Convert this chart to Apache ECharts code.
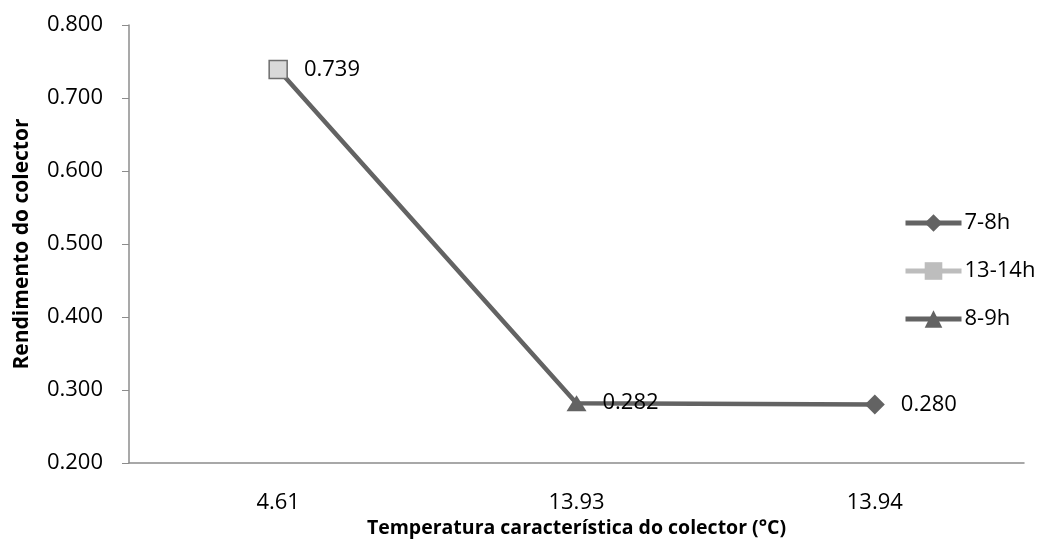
<!DOCTYPE html>
<html lang="pt">
<head>
    <meta charset="UTF-8">
    <title>Rendimento do colector</title>
</head>
<script src="https://cdn.jsdelivr.net/npm/echarts@6/dist/echarts.min.js"></script>

<body style="margin:0">
<div id="main" style="width:1043px;height:552px"></div>
<script>
    // dados
    var categories = ['4.61', '13.93', '13.94'];
    var ligacao = [0.739, 0.282, 0.280];
    var serie78 = [null, null, 0.280];
    var serie1314 = [0.739, null, null];
    var serie89 = [null, 0.282, null];
    var yTicks = [0.2, 0.3, 0.4, 0.5, 0.6, 0.7, 0.8];

    var fonte = 'Open Sans';
    var cinza = '#636363';

    var rotulo = {
        show: true,
        position: 'right',
        distance: 16,
        fontFamily: fonte,
        fontSize: 22,
        color: '#000',
        formatter: function (p) { return p.value.toFixed(3); }
    };

    var myChart = echarts.init(document.getElementById('main'));
    myChart.setOption({
        animation: false,
        textStyle: { fontFamily: fonte },
        grid: { left: 129, right: 19, top: 25, bottom: 89 },
        legend: {
            orient: 'vertical',
            left: 898,
            top: 207,
            itemGap: 26,
            itemWidth: 56,
            itemHeight: 22,
            lineStyle: { width: 5 },
            textStyle: { fontFamily: fonte, fontSize: 22, lineHeight: 22, color: '#000', padding: [0, 0, 0, -2] },
            data: [
                { name: '7-8h' },
                { name: '13-14h', itemStyle: { color: '#bdbdbd', borderWidth: 0 } },
                { name: '8-9h' }
            ]
        },
        xAxis: {
            type: 'category',
            data: categories,
            name: 'Temperatura característica do colector (°C)',
            nameLocation: 'middle',
            nameGap: 51,
            nameTextStyle: { fontFamily: fonte, fontSize: 19.5, fontWeight: 'bold', color: '#000' },
            axisLine: { lineStyle: { color: '#8c8c8c', width: 1.5 } },
            axisTick: { length: 6, lineStyle: { color: '#8c8c8c' } },
            axisLabel: { fontFamily: fonte, fontSize: 22, color: '#000', margin: 29 }
        },
        yAxis: {
            type: 'value',
            min: yTicks[0],
            max: yTicks[yTicks.length - 1],
            interval: 0.1,
            name: 'Rendimento do colector',
            nameLocation: 'middle',
            nameGap: 96,
            nameTextStyle: { fontFamily: fonte, fontSize: 21, fontWeight: 'bold', color: '#000' },
            splitLine: { show: false },
            axisLine: { show: true, lineStyle: { color: '#8c8c8c', width: 1.5 } },
            axisTick: { show: true, length: 7, lineStyle: { color: '#8c8c8c' } },
            axisLabel: {
                fontFamily: fonte, fontSize: 22, color: '#000', margin: 26,
                formatter: function (v) { return v.toFixed(3); }
            }
        },
        series: [
            {
                name: 'ligacao',
                type: 'line',
                data: ligacao,
                showSymbol: false,
                symbol: 'none',
                lineStyle: { color: cinza, width: 4.5 },
                z: 1
            },
            {
                name: '7-8h',
                type: 'line',
                data: serie78,
                symbol: 'diamond',
                symbolSize: [20, 20],
                itemStyle: { color: cinza },
                lineStyle: { color: cinza, width: 4.5 },
                label: rotulo,
                z: 3
            },
            {
                name: '13-14h',
                type: 'line',
                data: serie1314,
                symbol: 'rect',
                symbolSize: 18,
                itemStyle: { color: '#d9d9d9', borderColor: '#6e6e6e', borderWidth: 1.5 },
                lineStyle: { color: '#bdbdbd', width: 4.5 },
                label: rotulo,
                z: 3
            },
            {
                name: '8-9h',
                type: 'line',
                data: serie89,
                symbol: 'triangle',
                symbolSize: [20, 16],
                itemStyle: { color: cinza },
                lineStyle: { color: cinza, width: 4.5 },
                label: rotulo,
                z: 3
            }
        ]
    });
</script>

</body>
</html>
